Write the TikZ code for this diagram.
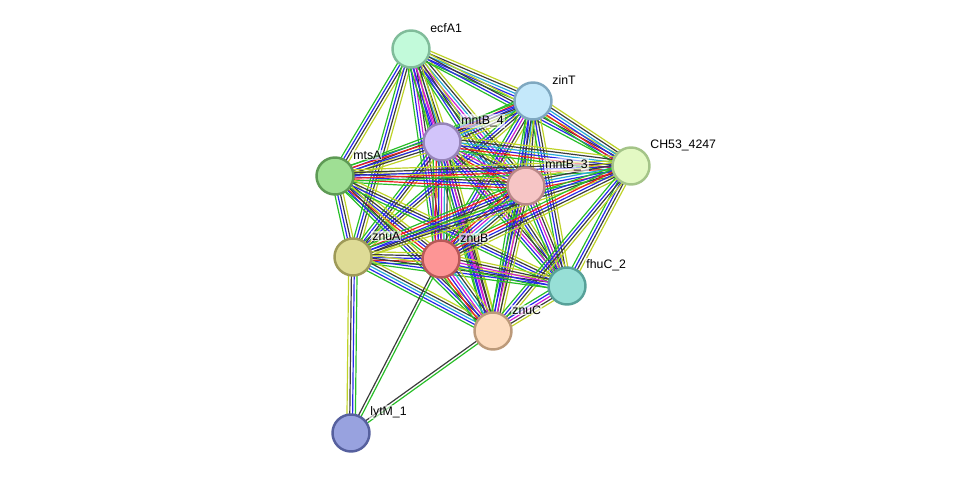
\documentclass[tikz,border=0pt]{standalone}
\usepackage{fontspec}
\setmainfont{Liberation Sans}
\usetikzlibrary{calc,positioning}
\definecolor{egreen}{RGB}{40,190,40}
\definecolor{ered}{RGB}{240,30,30}
\definecolor{eblue}{RGB}{40,40,235}
\definecolor{ecyan}{RGB}{40,170,215}
\definecolor{emag}{RGB}{210,30,210}
\definecolor{eblack}{RGB}{60,60,60}
\definecolor{eyellow}{RGB}{190,210,40}
\pgfdeclarelayer{edges}
\pgfsetlayers{edges,main}
\tikzset{
  prot/.style={circle,draw,line width=1.4pt,minimum size=0.74cm,inner sep=0pt},
  plabel/.style={anchor=west,font=\fontsize{7}{8}\selectfont,inner sep=0.6pt,fill=white,fill opacity=0.6,text opacity=1},
  evidence/.style={line width=0.68pt}
}
% one line per evidence channel, side by side
\newcommand\netedge[4]{%
  \foreach \col [count=\i] in {#4}{%
    \pgfmathsetlengthmacro\off{(\i-(#3+1)/2)*1.6pt}%
    \draw[evidence,\col] ($(#1)!\off!90:(#2)$) -- ($(#2)!\off!-90:(#1)$);
  }%
}
\begin{document}
\begin{tikzpicture}[x=0.02cm,y=-0.02cm]
  \useasboundingbox (0,0) rectangle (975,479);
  % proteins
  \node[prot,fill={rgb,255:red,194;green,250;blue,218},draw={rgb,255:red,128;green,188;blue,154}] (ecfA1) at (411,49) {};
  \node[prot,fill={rgb,255:red,196;green,232;blue,250},draw={rgb,255:red,127;green,168;blue,192}] (zinT) at (533,101) {};
  \node[prot,fill={rgb,255:red,210;green,196;blue,250},draw={rgb,255:red,150;green,132;blue,184}] (mntB4) at (442,142) {};
  \node[prot,fill={rgb,255:red,159;green,223;blue,148},draw={rgb,255:red,94;green,154;blue,85}] (mtsA) at (335,176) {};
  \node[prot,fill={rgb,255:red,246;green,197;blue,197},draw={rgb,255:red,184;green,136;blue,136}] (mntB3) at (526,186) {};
  \node[prot,fill={rgb,255:red,227;green,249;blue,195},draw={rgb,255:red,164;green,196;blue,136}] (ch53) at (631,166) {};
  \node[prot,fill={rgb,255:red,222;green,219;blue,150},draw={rgb,255:red,158;green,154;blue,88}] (znuA) at (353,257) {};
  \node[prot,fill={rgb,255:red,253;green,149;blue,149},draw={rgb,255:red,184;green,88;blue,88}] (znuB) at (441,259) {};
  \node[prot,fill={rgb,255:red,151;green,223;blue,214},draw={rgb,255:red,87;green,161;blue,153}] (fhuC2) at (567,286) {};
  \node[prot,fill={rgb,255:red,253;green,220;blue,191},draw={rgb,255:red,188;green,154;blue,122}] (znuC) at (493,331) {};
  \node[prot,fill={rgb,255:red,152;green,162;blue,223},draw={rgb,255:red,86;green,96;blue,158}] (lytM1) at (351,433) {};
  % names
  \node[plabel] (ecfA1-l) at ([shift={(18,-21)}]ecfA1.center) {ecfA1};
  \node[plabel] (zinT-l) at ([shift={(18,-21)}]zinT.center) {zinT};
  \node[plabel] (mntB4-l) at ([shift={(18,-21)}]mntB4.center) {mntB\_4};
  \node[plabel] (mtsA-l) at ([shift={(17,-21)}]mtsA.center) {mtsA};
  \node[plabel] (mntB3-l) at ([shift={(18,-21)}]mntB3.center) {mntB\_3};
  \node[plabel] (ch53-l) at ([shift={(18,-21)}]ch53.center) {CH53\_4247};
  \node[plabel] (znuA-l) at ([shift={(18,-21)}]znuA.center) {znuA};
  \node[plabel] (znuB-l) at ([shift={(18,-21)}]znuB.center) {znuB};
  \node[plabel] (fhuC2-l) at ([shift={(18,-21)}]fhuC2.center) {fhuC\_2};
  \node[plabel] (znuC-l) at ([shift={(18,-21)}]znuC.center) {znuC};
  \node[plabel] (lytM1-l) at ([shift={(18,-21)}]lytM1.center) {lytM\_1};
  % interactions
  \begin{pgfonlayer}{edges}
    \netedge{ecfA1}{zinT}{5}{egreen,eblue,ecyan,eblack,eyellow}
    \netedge{ecfA1}{mntB4}{6}{egreen,eblue,emag,ecyan,eblack,eyellow}
    \netedge{ecfA1}{mtsA}{4}{egreen,eblue,eblack,eyellow}
    \netedge{ecfA1}{mntB3}{6}{egreen,eblue,emag,ecyan,eblack,eyellow}
    \netedge{ecfA1}{ch53}{4}{egreen,eblue,eblack,eyellow}
    \netedge{ecfA1}{znuA}{4}{egreen,eblue,eblack,eyellow}
    \netedge{ecfA1}{znuB}{5}{egreen,eblue,emag,eblack,eyellow}
    \netedge{ecfA1}{fhuC2}{4}{egreen,eblue,eblack,eyellow}
    \netedge{ecfA1}{znuC}{5}{egreen,eblue,emag,eblack,eyellow}
    \netedge{zinT}{mntB4}{6}{egreen,ered,eblue,ecyan,eblack,eyellow}
    \netedge{zinT}{mtsA}{4}{egreen,eblue,eblack,eyellow}
    \netedge{zinT}{mntB3}{5}{egreen,eblue,ecyan,eblack,eyellow}
    \netedge{zinT}{ch53}{6}{egreen,ered,eblue,ecyan,eblack,eyellow}
    \netedge{zinT}{znuA}{4}{egreen,eblue,eblack,eyellow}
    \netedge{zinT}{znuB}{5}{egreen,eblue,emag,eblack,eyellow}
    \netedge{zinT}{fhuC2}{4}{egreen,eblue,eblack,eyellow}
    \netedge{zinT}{znuC}{4}{egreen,eblue,eblack,eyellow}
    \netedge{mntB4}{mtsA}{5}{egreen,ered,eblue,eblack,eyellow}
    \netedge{mntB4}{mntB3}{7}{egreen,ered,eblue,emag,ecyan,eblack,eyellow}
    \netedge{mntB4}{ch53}{6}{egreen,ered,eblue,ecyan,eblack,eyellow}
    \netedge{mntB4}{znuA}{4}{egreen,eblue,eblack,eyellow}
    \netedge{mntB4}{znuB}{7}{egreen,ered,eblue,emag,ecyan,eblack,eyellow}
    \netedge{mntB4}{fhuC2}{5}{egreen,eblue,emag,eblack,eyellow}
    \netedge{mntB4}{znuC}{5}{egreen,eblue,emag,eblack,eyellow}
    \netedge{mtsA}{mntB3}{5}{egreen,ered,eblue,eblack,eyellow}
    \netedge{mtsA}{ch53}{5}{egreen,ered,eblue,eblack,eyellow}
    \netedge{mtsA}{znuA}{4}{egreen,eblue,eblack,eyellow}
    \netedge{mtsA}{znuB}{5}{egreen,ered,eblue,eblack,eyellow}
    \netedge{mtsA}{fhuC2}{4}{egreen,eblue,eblack,eyellow}
    \netedge{mtsA}{znuC}{4}{egreen,eblue,eblack,eyellow}
    \netedge{mntB3}{ch53}{6}{egreen,ered,eblue,ecyan,eblack,eyellow}
    \netedge{mntB3}{znuA}{5}{egreen,ered,eblue,eblack,eyellow}
    \netedge{mntB3}{znuB}{7}{egreen,ered,eblue,emag,ecyan,eblack,eyellow}
    \netedge{mntB3}{fhuC2}{5}{egreen,eblue,emag,eblack,eyellow}
    \netedge{mntB3}{znuC}{5}{egreen,eblue,emag,eblack,eyellow}
    \netedge{ch53}{znuA}{4}{egreen,eblue,eblack,eyellow}
    \netedge{ch53}{znuB}{5}{egreen,ered,eblue,eblack,eyellow}
    \netedge{ch53}{fhuC2}{4}{egreen,eblue,eblack,eyellow}
    \netedge{ch53}{znuC}{4}{egreen,eblue,eblack,eyellow}
    \netedge{znuA}{znuB}{5}{egreen,ered,eblue,eblack,eyellow}
    \netedge{znuA}{fhuC2}{4}{egreen,eblue,eblack,eyellow}
    \netedge{znuA}{znuC}{5}{egreen,eblue,ecyan,eblack,eyellow}
    \netedge{znuB}{fhuC2}{5}{egreen,eblue,emag,eblack,eyellow}
    \netedge{znuB}{znuC}{7}{egreen,ered,eblue,emag,ecyan,eblack,eyellow}
    \netedge{fhuC2}{znuC}{5}{egreen,eblue,emag,eblack,eyellow}
    \netedge{lytM1}{znuA}{4}{egreen,eblue,eblack,eyellow}
    \netedge{lytM1}{znuB}{2}{egreen,eblack}
    \netedge{lytM1}{znuC}{2}{egreen,eblack}
  \end{pgfonlayer}
\end{tikzpicture}
\end{document}
